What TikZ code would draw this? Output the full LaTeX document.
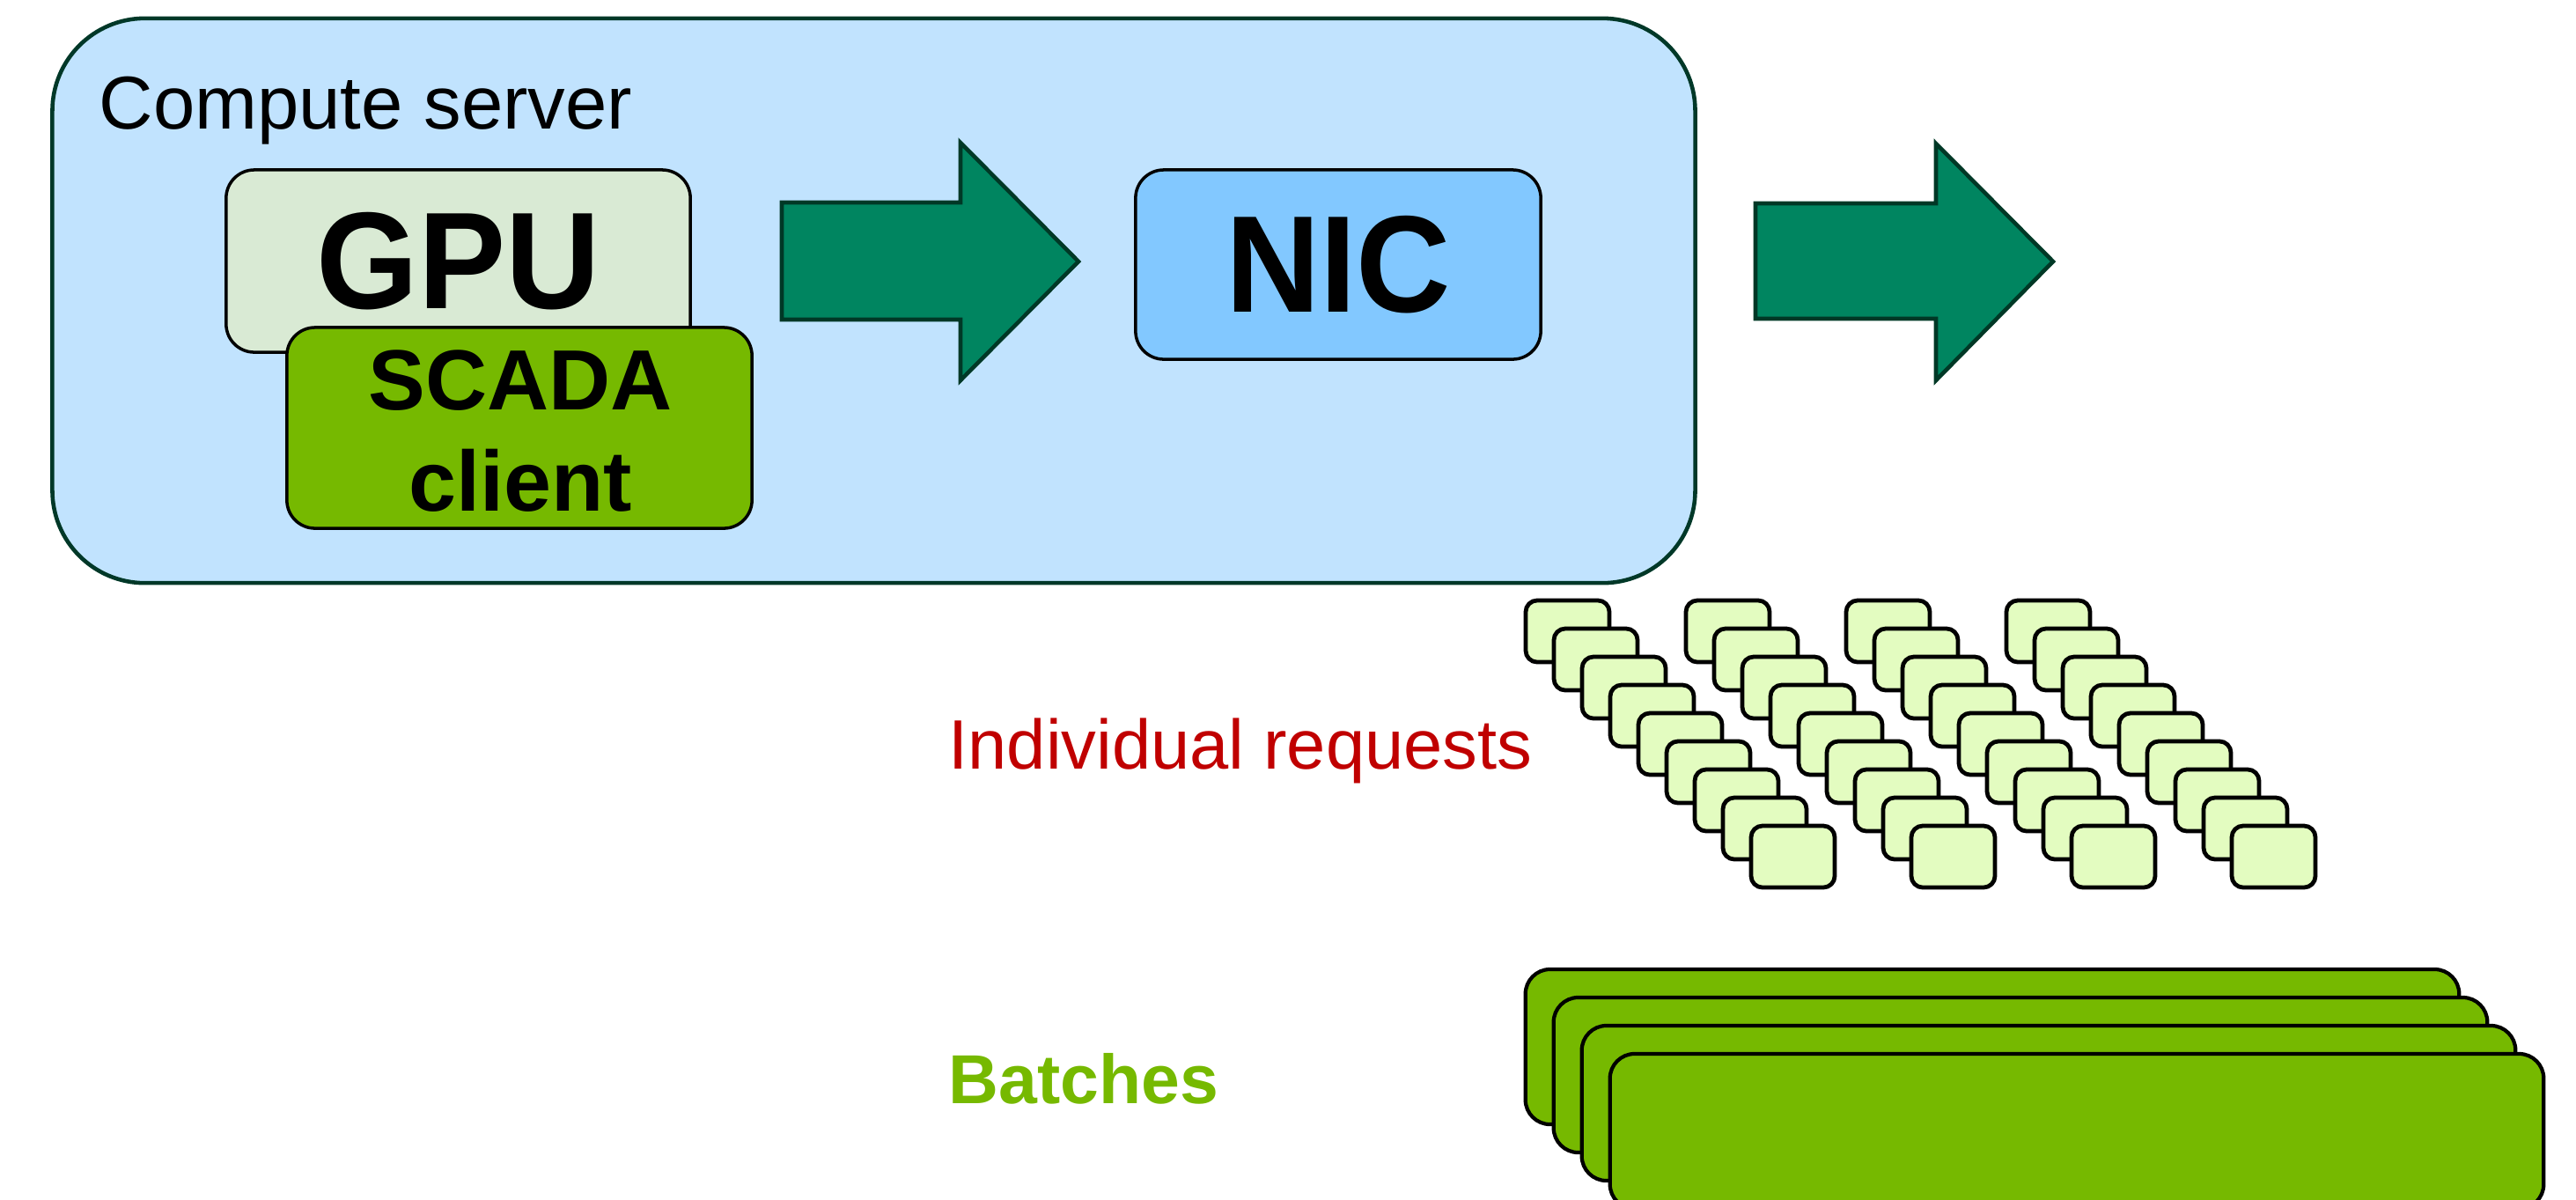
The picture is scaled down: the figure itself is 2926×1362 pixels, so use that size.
\documentclass[tikz,border=0pt]{standalone}
\usepackage{fontspec}
\usepackage{graphicx}
\setmainfont{Liberation Sans}

\definecolor{serverblue}{RGB}{193,227,254}
\definecolor{serverline}{RGB}{0,56,40}
\definecolor{gpufill}{RGB}{217,234,212}
\definecolor{nvgreen}{RGB}{118,185,0}
\definecolor{nicblue}{RGB}{130,200,255}
\definecolor{arrowgreen}{RGB}{0,133,96}
\definecolor{arrowline}{RGB}{0,56,38}
\definecolor{reqfill}{RGB}{227,252,192}
\definecolor{reqred}{RGB}{192,0,0}

\begin{document}
\begin{tikzpicture}[x=0.01cm, y=-0.01cm,
  serverbox/.style={draw=serverline, line width=1.3pt, fill=serverblue,
    rounded corners=1.05cm, inner sep=0pt},
  chipbox/.style={draw=black, line width=1pt, rounded corners=0.32cm,
    inner sep=0pt, align=center},
  reqbox/.style={draw=black, line width=1.35pt, fill=reqfill, rounded corners=0.13cm,
    minimum width=0.95cm, minimum height=0.70cm, inner sep=0pt},
  batchbox/.style={draw=black, line width=1.2pt, fill=nvgreen, rounded corners=0.28cm,
    minimum width=10.6cm, minimum height=1.76cm, inner sep=0pt},
  blockarrow/.style={draw=arrowline, line width=1.3pt, fill=arrowgreen, line join=miter},
  bigbold/.style={font=\fontsize{44.5}{52}\selectfont\bfseries},
]
\useasboundingbox (0,0) rectangle (2926,1362);
\clip (0,0) rectangle (2926,1362);

% compute server with its components
\node[serverbox, minimum width=18.65cm, minimum height=6.41cm] (server) at (992.5,341.5) {};
\node[anchor=base west, inner sep=0pt, font=\fontsize{24.2}{29}\selectfont]
  (serverlabel) at (112,146) {Compute server};

\node[chipbox, fill=gpufill, minimum width=5.27cm, minimum height=2.07cm,
  bigbold] (gpu) at (520.5,296.5) {\scalebox{0.95}[1]{GPU}};

\node[chipbox, fill=nvgreen, minimum width=5.28cm, minimum height=2.28cm] (scada) at (590,486) {};
\node[anchor=base, inner sep=0pt, font=\fontsize{27.6}{33}\selectfont\bfseries]
  (scadatop) at (591,465) {SCADA};
\node[anchor=base, inner sep=0pt, font=\fontsize{27.6}{33}\selectfont\bfseries]
  (scadabottom) at (591,580) {client};

\node[chipbox, fill=nicblue, minimum width=4.6cm, minimum height=2.15cm,
  bigbold] (nic) at (1520,300.5) {\scalebox{0.95}[1]{NIC}};

% block arrows: client -> NIC -> network
\draw[blockarrow] (888,230) -- (1091,230) -- (1091,162) -- (1225,297)
  -- (1091,432) -- (1091,363) -- (888,363) -- cycle;
\draw[blockarrow] (1994,231) -- (2199,231) -- (2199,163) -- (2332,297)
  -- (2199,432) -- (2199,362) -- (1994,362) -- cycle;

% individual requests: four diagonal stacks of nine
\foreach \c in {0,...,3} {
  \foreach \k in {0,...,8} {
    \node[reqbox] (req-\c-\k) at ({1733+182*\c+32*\k+47.5},{682+32*\k+35}) {};
  }
}
\node[anchor=base west, inner sep=0pt, text=reqred, font=\fontsize{22.6}{27}\selectfont]
  (reqlabel) at (1077,873) {Individual requests};

% batches: four stacked large boxes
\foreach \j in {0,...,3} {
  \node[batchbox] (batch-\j) at ({1733+32*\j+530},{1101+32*\j+88}) {};
}
\node[anchor=base west, inner sep=0pt, text=nvgreen, font=\fontsize{22.4}{27}\selectfont\bfseries]
  (batchlabel) at (1077,1253) {Batches};
\end{tikzpicture}
\end{document}
